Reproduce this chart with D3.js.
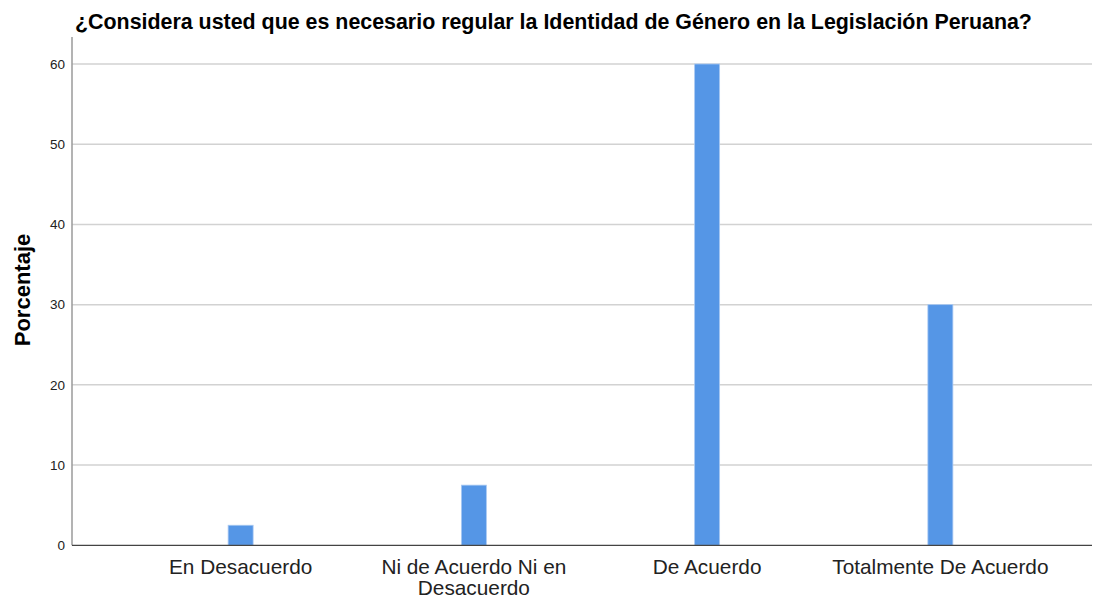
<!DOCTYPE html>
<html>
<head>
<meta charset="utf-8">
<script src="https://cdn.jsdelivr.net/npm/d3@7"></script>
<style>
  body { margin: 0; background: #fff; }
  text { font-family: "Liberation Sans", Arial, sans-serif; }
</style>
</head>
<body>
<div id="chart"></div>
<script>
const categories = [
  ["En Desacuerdo"],
  ["Ni de Acuerdo Ni en", "Desacuerdo"],
  ["De Acuerdo"],
  ["Totalmente De Acuerdo"],
];
const porcentajes = [2.5, 7.5, 60, 30];
const yTicks = [0, 10, 20, 30, 40, 50, 60];

const width = 1105;
const height = 599;

const svg = d3
  .select("#chart")
  .append("svg")
  .attr("width", width)
  .attr("height", height);

const plotLeft = 72;
const plotRight = 1092;

const x = d3
  .scalePoint()
  .domain(d3.range(categories.length))
  .range([124, 1057])
  .padding(0.5);

const y = d3.scaleLinear().domain([0, 60]).range([545.3, 64]);

// gridlines
svg
  .append("g")
  .selectAll("line")
  .data(yTicks.filter((d) => d > 0))
  .join("line")
  .attr("x1", plotLeft)
  .attr("x2", plotRight)
  .attr("y1", (d) => y(d))
  .attr("y2", (d) => y(d))
  .attr("stroke", "#d2d2d2")
  .attr("stroke-width", 1.5);

// bars
const barW = 25;
svg
  .append("g")
  .selectAll("rect")
  .data(porcentajes)
  .join("rect")
  .attr("x", (d, i) => x(i) - barW / 2)
  .attr("y", (d) => y(d))
  .attr("width", barW)
  .attr("height", (d) => y(0) - y(d))
  .attr("fill", "#5596e6")
  .attr("stroke", "#a9c9f2")
  .attr("stroke-width", 0.8);

// y axis
const yAxis = svg
  .append("g")
  .attr("transform", `translate(${plotLeft},0)`)
  .call(d3.axisLeft(y).tickValues(yTicks).tickSize(0).tickPadding(7));
yAxis.select(".domain").remove();
yAxis
  .selectAll("text")
  .attr("font-size", 13.5)
  .attr("fill", "#222")
  .style("font-family", '"Liberation Sans", Arial, sans-serif');

svg
  .append("line")
  .attr("x1", plotLeft)
  .attr("x2", plotLeft)
  .attr("y1", 37)
  .attr("y2", y(0))
  .attr("stroke", "#9a9a9a")
  .attr("stroke-width", 1.5);

// x axis
svg
  .append("line")
  .attr("x1", plotLeft)
  .attr("x2", plotRight)
  .attr("y1", y(0))
  .attr("y2", y(0))
  .attr("stroke", "#444")
  .attr("stroke-width", 1.2);

const xLabels = svg
  .append("g")
  .selectAll("text")
  .data(categories)
  .join("text")
  .attr("x", (d, i) => x(i))
  .attr("y", 574)
  .attr("text-anchor", "middle")
  .attr("font-size", 20.8)
  .attr("fill", "#222");
xLabels
  .selectAll("tspan")
  .data((d) => d)
  .join("tspan")
  .attr("x", function () {
    return d3.select(this.parentNode).attr("x");
  })
  .attr("dy", (d, i) => (i === 0 ? 0 : 21))
  .text((d) => d);

// titles
svg
  .append("text")
  .attr("x", 75)
  .attr("y", 29)
  .attr("font-size", 21.4)
  .attr("font-weight", "bold")
  .attr("fill", "#000")
  .text("¿Considera usted que es necesario regular la Identidad de Género en la Legislación Peruana?");

svg
  .append("text")
  .attr("transform", "translate(30,290) rotate(-90)")
  .attr("text-anchor", "middle")
  .attr("font-size", 22)
  .attr("font-weight", "bold")
  .attr("fill", "#000")
  .text("Porcentaje");
</script>
</body>
</html>
